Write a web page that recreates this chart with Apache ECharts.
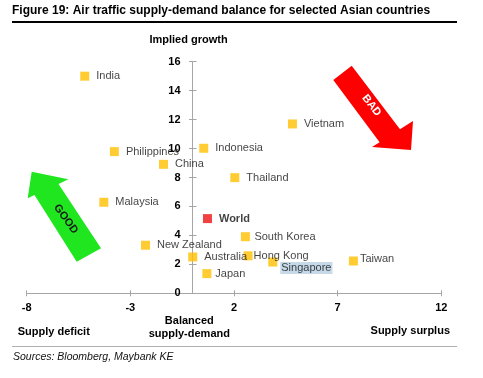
<!DOCTYPE html>
<html>
<head>
<meta charset="utf-8">
<script src="https://cdn.jsdelivr.net/npm/echarts@6/dist/echarts.min.js"></script>
<style>
html,body{margin:0;padding:0;background:#fff;}
#chart{width:483px;height:378px;}
</style>
</head>
<body>
<div id="chart"></div>
<script>
// ---- Data ----
const countries = ['India','Vietnam','Philippines','Indonesia','China','Thailand','Malaysia','South Korea','New Zealand','Australia','Hong Kong','Singapore','Taiwan','Japan'];
const supplyBalance = [-5.2, 4.82, -3.77, 0.54, -1.40, 2.04, -4.28, 2.55, -2.27, 0.01, 2.68, 3.87, 7.76, 0.69];
const impliedGrowth = [15.0, 11.7, 9.79, 10.02, 8.91, 7.99, 6.29, 3.91, 3.32, 2.51, 2.59, 2.16, 2.23, 1.36];
const worldName = ['World'];
const worldBalance = [0.72];
const worldGrowth = [5.16];
const xTicks = [-8, -3, 2, 7, 12];
const yTicks = [0, 2, 4, 6, 8, 10, 12, 14, 16];

// ---- Styling ----
const FONT = '"Liberation Sans", Arial, sans-serif';
const AXIS_GREY = '#a6a6a6';
const GRID = { left: 26.7, right: 41.7, top: 61.7, bottom: 84.7 };
const CHART_W = 483;
const labelTweaks = {
  'Hong Kong': { distance: 1 },
  'Taiwan': { distance: 2, offset: [0, -2] },
  'Japan': { distance: 4 },
  'South Korea': { distance: 4.5 },
  'Singapore': { distance: 3, offset: [0, 6], backgroundColor: '#b8d0e4', padding: [1, 1, 0, 1] }
};

const mainData = countries.map((n, i) => {
  const item = { name: n, value: [supplyBalance[i], impliedGrowth[i]] };
  if (labelTweaks[n]) item.label = labelTweaks[n];
  return item;
});
const worldData = worldName.map((n, i) => ({ name: n, value: [worldBalance[i], worldGrowth[i]] }));

const xMin = xTicks[0], xMax = xTicks[xTicks.length - 1];
// place the vertical axis at x = 0 ("balanced supply-demand") by shifting it inside the grid
const gridW = CHART_W - GRID.left - GRID.right;
const yAxisShift = -((0 - xMin) / (xMax - xMin)) * gridW;

const xBase = { type: 'value', min: xMin, max: xMax, interval: xTicks[1] - xTicks[0], splitLine: { show: false } };
const yBase = { type: 'value', min: yTicks[0], max: yTicks[yTicks.length - 1], interval: yTicks[1] - yTicks[0], splitLine: { show: false } };

const chart = echarts.init(document.getElementById('chart'), null, { renderer: 'canvas' });
chart.setOption({
  animation: false,
  backgroundColor: '#ffffff',
  title: {
    text: 'Figure 19: Air traffic supply-demand balance for selected Asian countries',
    left: 12, top: 5, padding: 0,
    textStyle: { fontFamily: FONT, fontSize: 12, fontWeight: 'bold', color: '#000' }
  },
  grid: { left: GRID.left, right: GRID.right, top: GRID.top, bottom: GRID.bottom, containLabel: false, outerBoundsMode: 'none' },
  xAxis: [
    Object.assign({}, xBase, {
      position: 'bottom',
      axisLine: { show: true, onZero: false, lineStyle: { color: AXIS_GREY, width: 1 } },
      axisTick: { show: true, length: 3, lineStyle: { color: AXIS_GREY } },
      axisLabel: { show: true, margin: 9, fontFamily: FONT, fontSize: 11, fontWeight: 'bold', color: '#000' }
    }),
    Object.assign({}, xBase, {
      position: 'bottom',
      axisLine: { show: false, onZero: false },
      axisTick: { show: true, inside: true, length: 3, lineStyle: { color: AXIS_GREY } },
      axisLabel: { show: false }
    })
  ],
  yAxis: [
    Object.assign({}, yBase, {
      position: 'left',
      offset: yAxisShift,
      name: 'Implied growth',
      nameLocation: 'end',
      nameGap: 16,
      nameTextStyle: { fontFamily: FONT, fontSize: 11, fontWeight: 'bold', color: '#000', padding: [0, 8, 0, 0] },
      axisLine: { show: true, onZero: false, lineStyle: { color: AXIS_GREY, width: 1 } },
      axisTick: { show: true, length: 3.5, lineStyle: { color: AXIS_GREY } },
      axisLabel: { show: true, margin: 12, fontFamily: FONT, fontSize: 11, fontWeight: 'bold', color: '#000' }
    }),
    Object.assign({}, yBase, {
      position: 'left',
      offset: yAxisShift,
      axisLine: { show: false, onZero: false },
      axisTick: { show: true, inside: true, length: 4, lineStyle: { color: AXIS_GREY } },
      axisLabel: { show: false }
    })
  ],
  series: [
    {
      name: 'Countries',
      type: 'scatter',
      xAxisIndex: 0, yAxisIndex: 0,
      symbol: 'rect', symbolSize: 9,
      itemStyle: { color: '#ffc000' },
      label: {
        show: true, position: 'right', distance: 7,
        formatter: '{b}',
        fontFamily: FONT, fontSize: 11, color: '#111'
      },
      emphasis: { disabled: true },
      data: mainData
    },
    {
      name: 'World',
      type: 'scatter',
      xAxisIndex: 0, yAxisIndex: 0,
      symbol: 'rect', symbolSize: 9,
      itemStyle: { color: '#ee1111' },
      label: {
        show: true, position: 'right', distance: 7,
        formatter: '{b}',
        fontFamily: FONT, fontSize: 11, fontWeight: 'bold', color: '#111'
      },
      emphasis: { disabled: true },
      data: worldData
    }
  ],
  graphic: [
    { type: 'line', shape: { x1: 12, y1: 22, x2: 457, y2: 22 }, style: { stroke: '#000', lineWidth: 2 }, silent: true },
    { type: 'polygon', shape: { points: [[351.7,65.7],[400,129.3],[413,121],[411,150],[372,147],[379.6,142.2],[333.3,80]] }, style: { fill: '#ff0000' }, silent: true },
    { type: 'text', x: 371.5, y: 105.5, rotation: -0.9, style: { text: 'BAD', fill: '#fff', font: 'bold 11px ' + FONT, textAlign: 'center', textVerticalAlign: 'middle' }, silent: true },
    { type: 'polygon', shape: { points: [[31.7,171.7],[68.3,179.3],[58.5,183.9],[101,248.3],[76.7,261.7],[34.5,195.1],[27.7,198.3]] }, style: { fill: '#1fe61f' }, silent: true },
    { type: 'text', x: 65.8, y: 219, rotation: -0.94, style: { text: 'GOOD', fill: '#1a1a1a', font: 'bold 11px ' + FONT, textAlign: 'center', textVerticalAlign: 'middle' }, silent: true },
    { type: 'text', x: 189.3, y: 320.7, style: { text: 'Balanced', fill: '#000', font: 'bold 11px ' + FONT, textAlign: 'center', textVerticalAlign: 'middle' }, silent: true },
    { type: 'text', x: 189.3, y: 334, style: { text: 'supply-demand', fill: '#000', font: 'bold 11px ' + FONT, textAlign: 'center', textVerticalAlign: 'middle' }, silent: true },
    { type: 'text', x: 17.7, y: 331.7, style: { text: 'Supply deficit', fill: '#000', font: 'bold 11px ' + FONT, textAlign: 'left', textVerticalAlign: 'middle' }, silent: true },
    { type: 'text', x: 450, y: 331, style: { text: 'Supply surplus', fill: '#000', font: 'bold 11px ' + FONT, textAlign: 'right', textVerticalAlign: 'middle' }, silent: true },
    { type: 'line', shape: { x1: 12, y1: 346.5, x2: 457, y2: 346.5 }, style: { stroke: '#b0b0b0', lineWidth: 1 }, silent: true },
    { type: 'text', x: 13, y: 357, style: { text: 'Sources: Bloomberg, Maybank KE', fill: '#111', font: 'italic 10.5px ' + FONT, textAlign: 'left', textVerticalAlign: 'middle' }, silent: true }
  ]
});
</script>
</body>
</html>
